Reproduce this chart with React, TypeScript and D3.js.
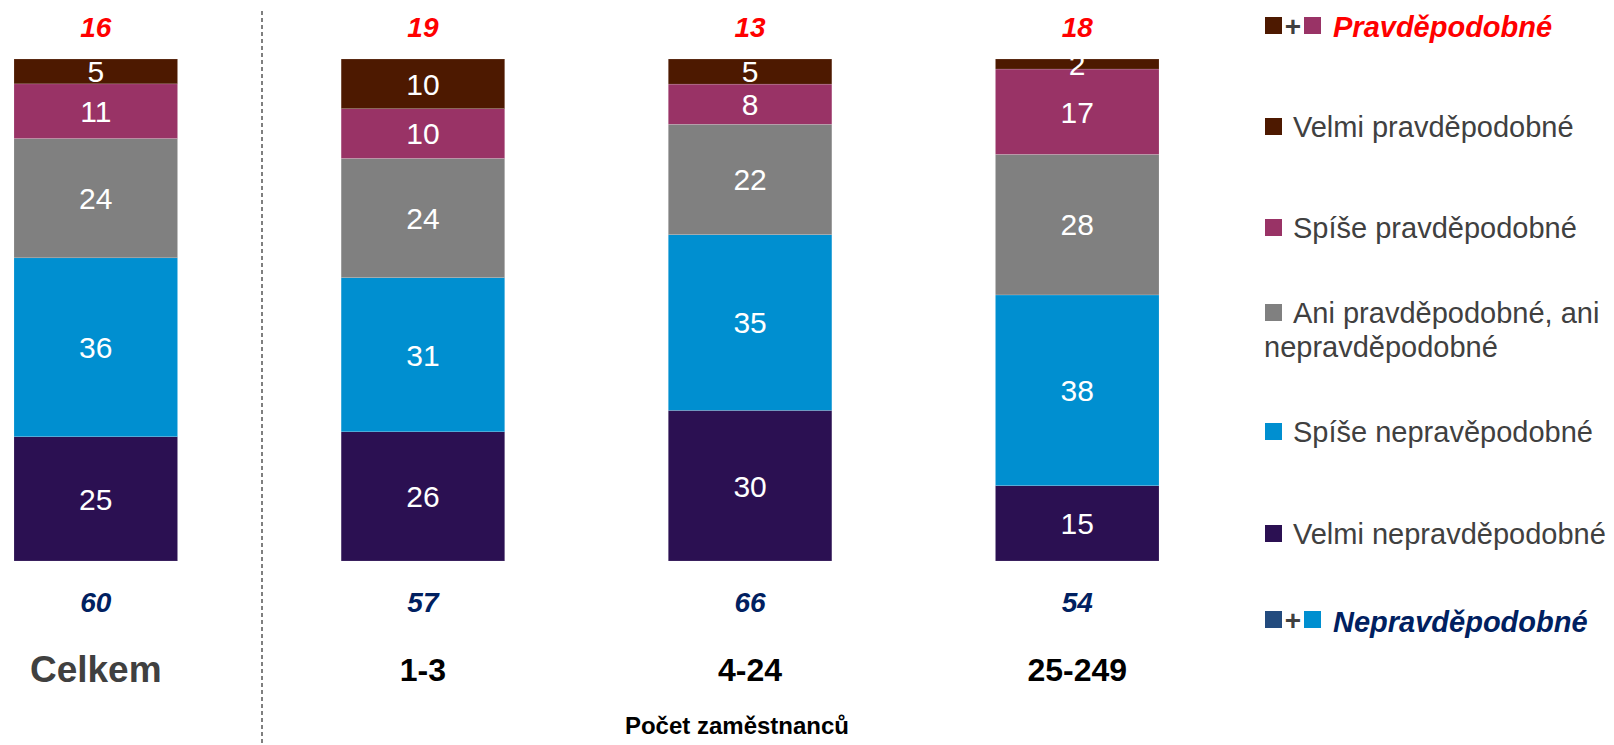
import React from 'react';
import * as d3 from 'd3';

const categories = ['Celkem', '1-3', '4-24', '25-249'];
const seriesNames = ['Velmi nepravděpodobné', 'Spíše nepravěpodobné', 'Ani pravděpodobné, ani nepravděpodobné', 'Spíše pravděpodobné', 'Velmi pravděpodobné'];
const seriesKeys = ['velmiNe', 'spiseNe', 'ani', 'spiseAno', 'velmiAno'];
const velmiNe = [25, 26, 30, 15];
const spiseNe = [36, 31, 35, 38];
const ani = [24, 24, 22, 28];
const spiseAno = [11, 10, 8, 17];
const velmiAno = [5, 10, 5, 2];
const topTotals = [16, 19, 13, 18];
const bottomTotals = [60, 57, 66, 54];
const colors = ['#2b1052', '#008fd0', '#808080', '#993366', '#4d1900'];

const FONT = '"Liberation Sans", Arial, sans-serif';

const App = () => {
    const width = 1614, height = 745;
    const rows = categories.map((c, i) => ({
        cat: c, velmiNe: velmiNe[i], spiseNe: spiseNe[i], ani: ani[i], spiseAno: spiseAno[i], velmiAno: velmiAno[i]
    }));
    const stacked = d3.stack().keys(seriesKeys).offset(d3.stackOffsetExpand)(rows as any);

    const x = d3.scaleBand().domain(categories).range([14, 1159]).paddingInner(0.5).paddingOuter(0);
    const y = d3.scaleLinear().domain([0, 1]).range([561, 59]);

    const bars = stacked.map((layer, li) => layer.map((d, i) => {
        const y0 = y(d[0]), y1 = y(d[1]);
        const val = (rows[i] as any)[seriesKeys[li]];
        return <g key={li + '-' + i}>
            <rect x={x(categories[i])} y={y1} width={x.bandwidth()} height={y0 - y1}
                fill={colors[li]} stroke="#ffffff" strokeOpacity={0.3} strokeWidth={0.5} />
            <text x={x(categories[i])! + x.bandwidth() / 2} y={(y0 + y1) / 2} dy="0.36em"
                textAnchor="middle" fill="#fff" fontSize={30} fontFamily={FONT}>{val}</text>
        </g>;
    }));

    const legendItems = [
        { name: seriesNames[4], color: colors[4], y: 127 },
        { name: seriesNames[3], color: colors[3], y: 228 },
        { name: seriesNames[2], color: colors[2], y: 313 },
        { name: seriesNames[1], color: colors[1], y: 432 },
        { name: seriesNames[0], color: colors[0], y: 534 },
    ];

    return (
        <svg width={width} height={height} style={{ position: 'absolute', left: 0, top: 0, background: '#fff' }}>
            <line x1={262} x2={262} y1={11} y2={745} stroke="#555" strokeWidth={1.5} strokeDasharray="4,3" />
            {bars}
            {categories.map((c, i) => {
                const cx = x(c)! + x.bandwidth() / 2;
                return <g key={c}>
                    <text x={cx} y={37} textAnchor="middle" fill="#ff0000" fontSize={28} fontWeight="bold"
                        fontStyle="italic" fontFamily={FONT}>{topTotals[i]}</text>
                    <text x={cx} y={612} textAnchor="middle" fill="#002060" fontSize={28} fontWeight="bold"
                        fontStyle="italic" fontFamily={FONT}>{bottomTotals[i]}</text>
                    <text x={cx} y={i === 0 ? 682 : 681} textAnchor="middle" fill={i === 0 ? '#404040' : '#000'}
                        fontSize={i === 0 ? 37 : 32} fontWeight="bold" fontFamily={FONT}>{c}</text>
                </g>;
            })}
            <text x={737} y={734} textAnchor="middle" fill="#000" fontSize={24} fontWeight="bold" fontFamily={FONT}>Počet zaměstnanců</text>

            {/* legend */}
            <g fontFamily={FONT}>
                <rect x={1265} y={17} width={17} height={17} fill={colors[4]} />
                <text x={1293} y={36} textAnchor="middle" fill="#404040" fontSize={28} fontWeight="bold">+</text>
                <rect x={1304} y={17} width={17} height={17} fill={colors[3]} />
                <text x={1333} y={37} fill="#ff0000" fontSize={29} fontWeight="bold" fontStyle="italic">Pravděpodobné</text>
                {legendItems.map((it, i) => (
                    <g key={i}>
                        <rect x={1265} y={it.y - 9} width={17} height={17} fill={it.color} />
                        {i === 2 ? (
                            <text fill="#404040" fontSize={29}>
                                <tspan x={1293} y={it.y + 10}>Ani pravděpodobné, ani</tspan>
                                <tspan x={1264} y={it.y + 44}>nepravděpodobné</tspan>
                            </text>
                        ) : (
                            <text x={1293} y={it.y + 10} fill="#404040" fontSize={29}>{it.name}</text>
                        )}
                    </g>
                ))}
                <rect x={1265} y={611} width={17} height={17} fill="#234b7e" />
                <text x={1293} y={630} textAnchor="middle" fill="#404040" fontSize={28} fontWeight="bold">+</text>
                <rect x={1304} y={611} width={17} height={17} fill={colors[1]} />
                <text x={1333} y={632} fill="#002060" fontSize={29} fontWeight="bold" fontStyle="italic">Nepravděpodobné</text>
            </g>
        </svg>
    );
};

export default App;
